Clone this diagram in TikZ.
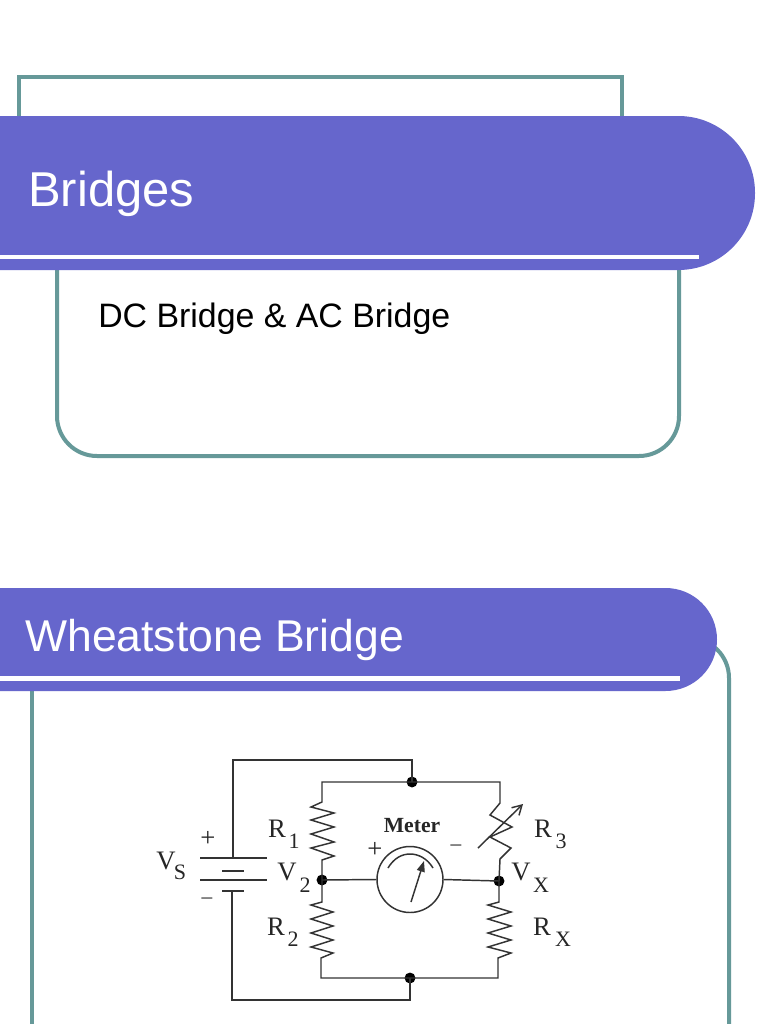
\documentclass[tikz,border=0pt]{standalone}
\usepackage{fontspec}
\setmainfont{Liberation Sans}
\newfontfamily\circuitfont{Liberation Serif}
\usetikzlibrary{arrows.meta}
\definecolor{banner}{HTML}{6666CC}
\definecolor{frameteal}{HTML}{669999}
\tikzset{
  frameline/.style={draw=frameteal,line width=3pt},
  bannershape/.style={fill=banner,draw=none},
  bannerrule/.style={fill=white,draw=none},
  titletext/.style={text=white,anchor=base west,inner sep=0pt},
  bodytext/.style={text=black,anchor=base west,inner sep=0pt},
  wire/.style={draw=black!80,line width=1.1pt,line join=miter},
  junction/.style={circle,fill=black,inner sep=0pt,minimum size=8.2pt},
  meterdial/.style={circle,draw=black!80,line width=1.1pt,inner sep=0pt,minimum size=49.5pt},
  lab/.style={font=\circuitfont\fontsize{20}{20}\selectfont,text=black!85,inner sep=0pt},
  sublab/.style={font=\circuitfont\fontsize{16.5}{17}\selectfont,text=black!85,inner sep=0pt},
  boldlab/.style={font=\circuitfont\bfseries\fontsize{16.2}{17}\selectfont,text=black!85,inner sep=0pt}
}
\begin{document}
\begin{tikzpicture}[x=0.75pt,y=-0.75pt]
\clip (0,0) rectangle (768,1024);
\fill[white] (0,0) rectangle (768,1024);
% upper slide frames
\draw[frameline] (19,130) -- (19,77.5) -- (622,77.5) -- (622,130);
\draw[frameline,rounded corners=30pt] (57,250) -- (57,456) -- (679,456) -- (679,250);
% upper banner
\fill[bannershape,rounded corners=57.5pt] (-150,116) -- (755,116) -- (755,270) -- (-150,270) -- cycle;
\fill[bannerrule] (0,254.5) rectangle (699,259);
\node[titletext,font=\fontsize{36.7}{37}\selectfont] (t1) at (28,206) {Bridges};
\node[bodytext,font=\fontsize{25.4}{26}\selectfont] (t2) at (98,327) {DC Bridge \& AC Bridge};
% lower slide frame
\draw[frameline] (32,670) -- (32,1030);
\draw[frameline,rounded corners=30pt] (650,638) -- (729,638) -- (729,1030);
% lower banner
\fill[bannershape,rounded corners=38.6pt] (-150,588) -- (717,588) -- (717,691) -- (-150,691) -- cycle;
\fill[bannerrule] (0,676) rectangle (680,680.5);
\node[titletext,font=\fontsize{33.4}{34}\selectfont] (t3) at (25,651) {Wheatstone Bridge};
% circuit
\node[junction] (top) at (412,782) {};
\node[junction] (bot) at (410,978) {};
\node[junction] (v2) at (322,880) {};
\node[junction] (vx) at (499,881) {};
\node[meterdial] (meter) at (410,879.5) {};
\coordinate (bp1) at (233,858);
\coordinate (bp2) at (232,891);
\draw[wire] (bp1) -- (233,760) -- (top.center |- 0,760) -- (top.center);
\draw[wire] (bp2) -- (232,1000) -- (bot.center |- 0,1000) -- (bot.center);
% battery plates
\draw[wire] (200,858) -- (267,858);
\draw[wire] (222,871) -- (244,871);
\draw[wire] (200,880) -- (267,880);
\draw[wire] (222,891) -- (244,891);
% R1
\draw[wire] (top.center) -- (322,782) -- (322,802) -- (311,807) -- (334,813) -- (311,820) -- (334,827) -- (311,834) -- (334,842) -- (311,848) -- (334,856) -- (322,860) -- (v2.center);
% R2
\draw[wire] (v2.center) -- (322,902) -- (311,905) -- (333,912) -- (311,919) -- (333,926) -- (311,933) -- (333,940) -- (311,947) -- (333,953) -- (321,958) -- (321,978) -- (bot.center);
% R3
\draw[wire] (top.center) -- (500,782) -- (500,803) -- (490,815) -- (512,827) -- (490,837) -- (511,848) -- (500,859) -- (vx.center);
\draw[wire,-{Straight Barb[length=7pt,width=8pt]}] (478,848) -- (523,804);
% Rx
\draw[wire] (vx.center) -- (499,902) -- (488,905) -- (511,912) -- (488,919) -- (511,926) -- (488,933) -- (511,940) -- (488,947) -- (511,953) -- (498,958) -- (498,978) -- (bot.center);
% meter connections
\draw[wire] (v2.center) -- (meter.west);
\draw[wire] (meter.east) -- (vx.center);
\draw[wire] (388,868) .. controls (394,858) and (402,854) .. (410,854) .. controls (418,854) and (427,858) .. (433,868);
\draw[wire,-{Triangle[length=8pt,width=6pt]}] (411,902) -- (424,861);
% labels
\node[lab] (ls1) at (166,861) {V};
\node[sublab] (ls2) at (180,872) {S};
\node[lab] (lr1) at (277,829) {R};
\node[sublab] (lr1s) at (294,841) {1};
\node[lab] (lv2) at (287,872) {V};
\node[sublab] (lv2s) at (305,885) {2};
\node[lab] (lr2) at (276,927) {R};
\node[sublab] (lr2s) at (293,939) {2};
\node[boldlab] (lm) at (412,826) {Meter};
\node[lab] (lp) at (375,850) {+};
\node[lab,scale=0.8] (lm2) at (456,848) {–};
\node[lab] (lbp) at (208,839) {+};
\node[lab,scale=0.8] (lbm) at (207,901) {–};
\node[lab] (lr3) at (543,829) {R};
\node[sublab] (lr3s) at (561,841) {3};
\node[lab] (lvx) at (521,872) {V};
\node[sublab] (lvxs) at (541,885) {X};
\node[lab] (lrx) at (542,927) {R};
\node[sublab] (lrxs) at (563,939) {X};
\end{tikzpicture}
\end{document}
